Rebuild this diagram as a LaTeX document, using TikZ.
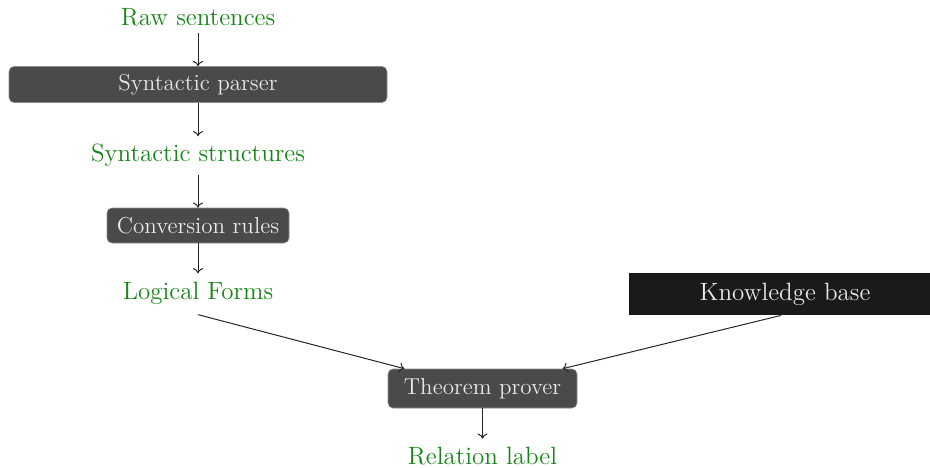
\documentclass[tikz,border=0pt]{standalone}
\usetikzlibrary{calc,arrows.meta}
\definecolor{lbl}{RGB}{20,135,20}
\definecolor{boxfill}{RGB}{74,74,74}
\definecolor{boxtext}{RGB}{232,232,232}
\definecolor{boxline}{RGB}{140,140,140}
\definecolor{kbfill}{RGB}{26,26,26}
\begin{document}
\begin{tikzpicture}[x=0.5pt,y=-0.5pt,
  lbltext/.style={text=lbl,font=\fontsize{12.5}{15}\selectfont,inner sep=0pt},
  procbox/.style={draw=boxline,line width=0.3pt,fill=boxfill,text=boxtext,font=\fontsize{11.5}{14}\selectfont,rounded corners=2.5pt,inner sep=0pt,minimum height=18pt},
  kbbox/.style={fill=kbfill,text=boxtext,font=\fontsize{12.5}{15}\selectfont,inner sep=0pt,minimum height=21pt},
  conn/.style={-{To[length=2.6pt,width=5pt]},draw=black!85,line width=0.5pt}]
\useasboundingbox (0,0) rectangle (930,467);
\node[lbltext] (raw) at (198,17) {Raw sentences};
\node[procbox,minimum width=189pt] (parser) at (198,84.5) {Syntactic parser};
\node[lbltext] (struct) at (198,155) {Syntactic structures};
\node[procbox,minimum width=91pt,minimum height=17.5pt] (conv) at (198,225.5) {Conversion rules};
\node[lbltext] (lf) at (198,293) {Logical Forms};
\node[kbbox,minimum width=156.5pt] (kb) at (785,294) {Knowledge base};
\node[procbox,minimum width=94.5pt,minimum height=19.5pt] (tp) at (482.5,388.5) {Theorem prover};
\node[lbltext] (rel) at (482.5,456) {Relation label};
\coordinate (tpl) at ($(tp.north)+(-78,0)$);
\coordinate (tpr) at ($(tp.north)+(80,0)$);
\draw[conn] ($(raw.south)+(0,7)$) -- (parser.north);
\draw[conn] (parser.south) -- ($(struct.north)+(0,-7)$);
\draw[conn] ($(struct.south)+(0,8)$) -- (conv.north);
\draw[conn] (conv.south) -- ($(lf.north)+(0,-8)$);
\draw[conn] ($(lf.south)+(0,10)$) -- (tpl);
\draw[conn] ($(kb.south)+(-4,0)$) -- (tpr);
\draw[conn] (tp.south) -- ($(rel.north)+(0,-8)$);
\end{tikzpicture}
\end{document}
